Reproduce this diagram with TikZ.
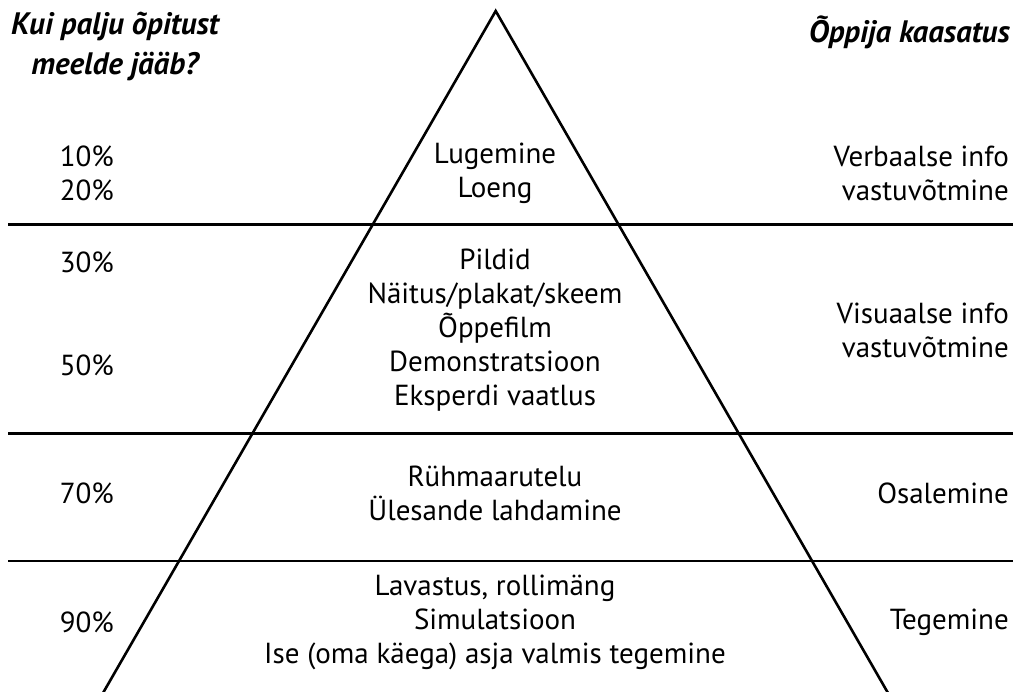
\documentclass[tikz,border=0pt]{standalone}
\usepackage{fontspec}
\setmainfont{PT Sans}
\tikzset{
  txt/.style={font=\fontsize{29}{34}\selectfont, inner sep=0pt, align=center},
  rtxt/.style={txt, anchor=east, align=right},
  head/.style={font=\fontsize{31}{40}\selectfont\bfseries\itshape, inner sep=0pt, align=center},
  edge/.style={line width=2.6pt, line join=miter},
  sep/.style={line width=2.8pt}
}
\begin{document}
\begin{tikzpicture}[x=1pt,y=1pt]
\useasboundingbox (0,0) rectangle (1015,691);
\coordinate (apex) at (495.7,680);
\coordinate (bl) at (103,-2);
\coordinate (br) at (888,-2);
\draw[edge] (bl) -- (apex) -- (br);
\draw[sep] (8,466.3) -- (1013,466.3);
\draw[sep] (8,257.3) -- (1013,257.3);
\draw[sep] (8,130) -- (1013,130);

\node[head] (h1) at (115,645) {Kui palju õpitust\\meelde jääb?};
\node[head, anchor=east] (h2) at (1010,659) {Õppija kaasatus};

\node[rtxt] (p1) at (114,517.5) {10\%\\20\%};
\node[rtxt] (p3) at (114,429) {30\%};
\node[rtxt] (p5) at (114,326) {50\%};
\node[rtxt] (p7) at (114,198) {70\%};
\node[rtxt] (p9) at (114,69) {90\%};

\node[txt] (c1) at (495,517.5) {Lugemine\\Loeng};
\node[txt] (c2) at (495,361) {Pildid\\Näitus/plakat/skeem\\Õppefilm\\Demonstratsioon\\Eksperdi vaatlus};
\node[txt] (c3) at (495,198) {Rühmaarutelu\\Ülesande lahdamine};
\node[txt] (c4) at (495,69) {Lavastus, rollimäng\\Simulatsioon\\Ise (oma käega) asja valmis tegemine};

\node[rtxt] (r1) at (1009,517.5) {Verbaalse info\\vastuvõtmine};
\node[rtxt] (r2) at (1009,361) {Visuaalse info\\vastuvõtmine};
\node[rtxt] (r3) at (1009,198) {Osalemine};
\node[rtxt] (r4) at (1009,69) {Tegemine};
\end{tikzpicture}
\end{document}
